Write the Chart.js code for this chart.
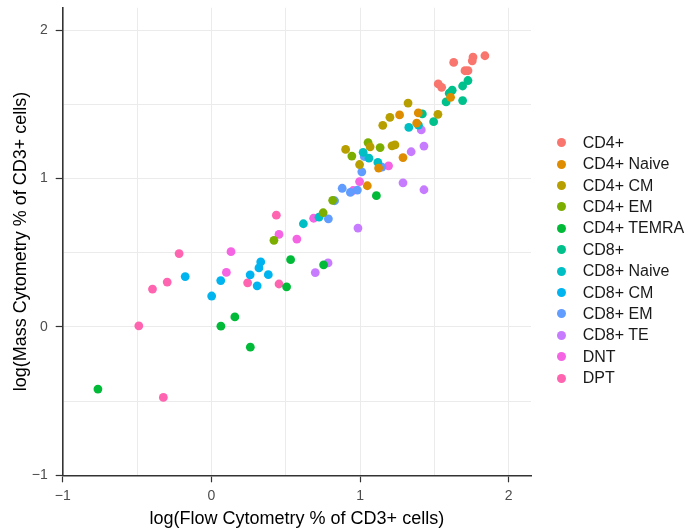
<!DOCTYPE html>
<html>
<head>
<meta charset="utf-8">
<script src="https://cdn.jsdelivr.net/npm/chart.js@4.4.1/dist/chart.umd.min.js"></script>
<style>
  html, body { margin: 0; padding: 0; background: #fff; }
  #wrap { position: relative; width: 686px; height: 531px; }
  #legend { position: absolute; left: 0; top: 0; font-family: "Liberation Sans", Arial, sans-serif; font-size: 16px; color: #1a1a1a; }
  .item { position: absolute; height: 20px; line-height: 20px; white-space: nowrap; }
  .dot { position: absolute; width: 9px; height: 9px; border-radius: 50%; }
</style>
</head>
<body>
<div id="wrap">
  <canvas id="c" width="686" height="531"></canvas>
  <div id="legend"></div>
</div>
<script>
// ---- data ----
const categories = ['CD4+', 'CD4+ Naive', 'CD4+ CM', 'CD4+ EM', 'CD4+ TEMRA', 'CD8+',
                    'CD8+ Naive', 'CD8+ CM', 'CD8+ EM', 'CD8+ TE', 'DNT', 'DPT'];
const colors = ['#F8766D', '#DE8C00', '#B79F00', '#7CAE00', '#00BA38', '#00C08B',
                '#00BFC4', '#00B4F0', '#619CFF', '#C77CFF', '#F564E3', '#FF64B0'];

const flowCD4       = [1.84, 1.76, 1.755, 1.63, 1.706, 1.726, 1.526, 1.549];
const massCD4       = [1.827, 1.818, 1.793, 1.782, 1.726, 1.726, 1.637, 1.614];
const flowCD4Naive  = [1.609, 1.266, 1.392, 1.381, 1.289, 1.125, 1.049];
const massCD4Naive  = [1.547, 1.428, 1.442, 1.373, 1.141, 1.070, 0.951];
const flowCD4CM     = [1.323, 1.201, 1.153, 1.524, 0.903, 0.997, 1.215, 1.235, 1.068];
const massCD4CM     = [1.508, 1.412, 1.358, 1.432, 1.196, 1.094, 1.220, 1.226, 1.213];
const flowCD4EM     = [1.054, 0.945, 1.135, 0.816, 0.752, 0.421];
const massCD4EM     = [1.242, 1.151, 1.208, 0.853, 0.769, 0.583];
const flowCD4TEMRA  = [1.110, 0.533, 0.506, 0.755, 0.158, 0.064, 0.262, -0.763];
const massCD4TEMRA  = [0.884, 0.453, 0.270, 0.418, 0.067, 0.005, -0.137, -0.419];
const flowCD8       = [1.726, 1.690, 1.620, 1.600, 1.579, 1.690, 1.419, 1.495];
const massCD8       = [1.660, 1.623, 1.595, 1.575, 1.516, 1.525, 1.435, 1.383];
const flowCD8Naive  = [1.328, 1.393, 1.021, 1.060, 1.120, 0.724, 0.619];
const massCD8Naive  = [1.344, 1.359, 1.176, 1.137, 1.108, 0.739, 0.695];
const flowCD8CM     = [0.332, 0.320, 0.261, 0.383, 0.308, 0.063, -0.176, 0.002];
const massCD8CM     = [0.438, 0.397, 0.351, 0.352, 0.277, 0.312, 0.339, 0.208];
const flowCD8EM     = [1.029, 1.012, 1.147, 0.880, 0.935, 0.982, 0.829, 0.787];
const massCD8EM     = [1.148, 1.045, 1.077, 0.934, 0.906, 0.922, 0.850, 0.728];
const flowCD8TE     = [1.412, 1.430, 1.344, 1.289, 1.430, 0.986, 0.785, 0.699];
const massCD8TE     = [1.327, 1.218, 1.180, 0.971, 0.924, 0.666, 0.431, 0.366];
const flowDNT       = [1.192, 0.997, 0.954, 0.688, 0.575, 0.455, 0.132, 0.101];
const massDNT       = [1.085, 0.979, 0.919, 0.732, 0.592, 0.623, 0.507, 0.367];
const flowDPT       = [0.437, -0.217, -0.297, -0.396, 0.244, 0.455, -0.488, -0.323];
const massDPT       = [0.753, 0.494, 0.302, 0.255, 0.297, 0.289, 0.007, -0.475];

const xTicks = [-1, 0, 1, 2];
const yTicks = [-1, 0, 1, 2];
const xTitle = 'log(Flow Cytometry % of CD3+ cells)';
const yTitle = 'log(Mass Cytometry % of CD3+ cells)';

const flowSeries = [flowCD4, flowCD4Naive, flowCD4CM, flowCD4EM, flowCD4TEMRA, flowCD8,
                    flowCD8Naive, flowCD8CM, flowCD8EM, flowCD8TE, flowDNT, flowDPT];
const massSeries = [massCD4, massCD4Naive, massCD4CM, massCD4EM, massCD4TEMRA, massCD8,
                    massCD8Naive, massCD8CM, massCD8EM, massCD8TE, massDNT, massDPT];

// ---- chart ----
const FONT = '"Liberation Sans", Arial, sans-serif';
const fmt = v => (v < 0 ? '\u2212' + Math.abs(v) : String(v));
const isHalf = v => Math.abs(v * 2 - Math.round(v * 2)) < 1e-6;
const isLabeled = (list, v) => list.some(t => Math.abs(t - v) < 1e-6);

const datasets = categories.map((name, i) => ({
  label: name,
  data: flowSeries[i].map((x, j) => ({ x: x, y: massSeries[i][j] })),
  backgroundColor: colors[i],
  borderWidth: 0,
  pointRadius: 4.4,
  pointHoverRadius: 4.4
}));

function axis(ticksList, title, isX) {
  return {
    type: 'linear',
    min: -1,
    max: 2.15,
    border: { display: true, color: '#333333', width: 1.6 },
    grid: {
      color: c => (c.tick && isHalf(c.tick.value) ? '#EBEBEB' : 'rgba(0,0,0,0)'),
      lineWidth: 1,
      drawTicks: true,
      tickLength: 7,
      tickColor: c => (c.tick && isLabeled(ticksList, c.tick.value) ? '#333333' : 'rgba(0,0,0,0)'),
      tickWidth: 1.2
    },
    ticks: {
      stepSize: 0.5,
      includeBounds: false,
      autoSkip: false,
      maxRotation: 0,
      padding: isX ? 5.5 : 8,
      color: '#4D4D4D',
      font: { family: FONT, size: 14 },
      callback: v => (isLabeled(ticksList, v) ? fmt(Math.round(v)) : '')
    },
    title: {
      display: true,
      text: title,
      color: '#000000',
      font: { family: FONT, size: 18 },
      padding: isX ? { top: 0, bottom: 1 } : { top: 10, bottom: 0 }
    },
    afterFit: s => {
      if (isX) { s.height = 55.7; } else { s.width = 62.7; }
      s.paddingTop = 0; s.paddingBottom = 0; s.paddingLeft = 0; s.paddingRight = 0;
    }
  };
}

new Chart(document.getElementById('c'), {
  type: 'scatter',
  data: { datasets: datasets },
  options: {
    responsive: false,
    animation: false,
    devicePixelRatio: 1,
    layout: { padding: { left: 0, right: 155, top: 7.8, bottom: 0 } },
    plugins: { legend: { display: false }, tooltip: { enabled: false } },
    scales: { x: axis(xTicks, xTitle, true), y: axis(yTicks, yTitle, false) }
  }
});

// ---- legend (real text) ----
const leg = document.getElementById('legend');
categories.forEach((name, i) => {
  const cy = 142.7 + i * 21.4;
  const dot = document.createElement('span');
  dot.className = 'dot';
  dot.style.left = (561.7 - 4.5) + 'px';
  dot.style.top = (cy - 4.5) + 'px';
  dot.style.background = colors[i];
  leg.appendChild(dot);
  const item = document.createElement('div');
  item.className = 'item';
  item.style.left = '582.7px';
  item.style.top = (cy - 10) + 'px';
  item.textContent = name;
  leg.appendChild(item);
});
</script>
</body>
</html>
